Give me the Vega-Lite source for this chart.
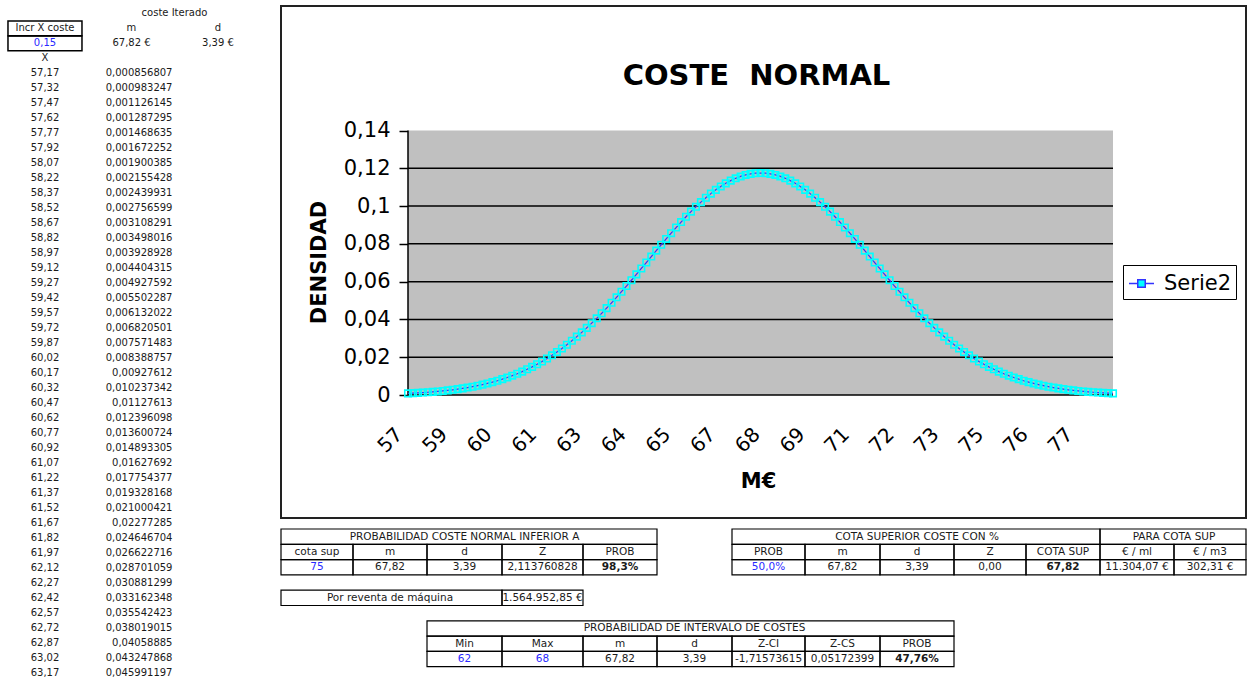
{
"$schema":"https://vega.github.io/schema/vega-lite/v6.json",
"background":"white",
"padding":{"left":0,"top":5,"right":2,"bottom":0},
"config":{"view":{"stroke":null},"font":"DejaVu Sans"},
"datasets":{
"densidad":[
{"x":57.17,"y":0.000856807},{"x":57.32,"y":0.000983247},{"x":57.47,"y":0.001126145},{"x":57.62,"y":0.001287295},{"x":57.77,"y":0.001468635},{"x":57.92,"y":0.001672252},{"x":58.07,"y":0.001900385},{"x":58.22,"y":0.002155428},{"x":58.37,"y":0.002439931},{"x":58.52,"y":0.002756599},
{"x":58.67,"y":0.003108291},{"x":58.82,"y":0.003498016},{"x":58.97,"y":0.003928928},{"x":59.12,"y":0.004404315},{"x":59.27,"y":0.004927592},{"x":59.42,"y":0.005502287},{"x":59.57,"y":0.006132022},{"x":59.72,"y":0.006820501},{"x":59.87,"y":0.007571483},{"x":60.02,"y":0.008388757},
{"x":60.17,"y":0.00927612},{"x":60.32,"y":0.010237342},{"x":60.47,"y":0.01127613},{"x":60.62,"y":0.012396098},{"x":60.77,"y":0.013600724},{"x":60.92,"y":0.014893305},{"x":61.07,"y":0.01627692},{"x":61.22,"y":0.017754377},{"x":61.37,"y":0.019328168},{"x":61.52,"y":0.021000421},
{"x":61.67,"y":0.02277285},{"x":61.82,"y":0.024646704},{"x":61.97,"y":0.026622716},{"x":62.12,"y":0.028701059},{"x":62.27,"y":0.030881299},{"x":62.42,"y":0.033162348},{"x":62.57,"y":0.035542423},{"x":62.72,"y":0.038019015},{"x":62.87,"y":0.04058885},{"x":63.02,"y":0.043247868},
{"x":63.17,"y":0.045991197},{"x":63.32,"y":0.048813},{"x":63.47,"y":0.051707},{"x":63.62,"y":0.054667},{"x":63.77,"y":0.057681},{"x":63.92,"y":0.060745},{"x":64.07,"y":0.063845},{"x":64.22,"y":0.066974},{"x":64.37,"y":0.070118},{"x":64.52,"y":0.073267},
{"x":64.67,"y":0.076408},{"x":64.82,"y":0.079529},{"x":64.97,"y":0.082614},{"x":65.12,"y":0.085653},{"x":65.27,"y":0.088631},{"x":65.42,"y":0.091533},{"x":65.57,"y":0.094345},{"x":65.72,"y":0.097054},{"x":65.87,"y":0.099646},{"x":66.02,"y":0.102107},
{"x":66.17,"y":0.104427},{"x":66.32,"y":0.10659},{"x":66.47,"y":0.108584},{"x":66.62,"y":0.110402},{"x":66.77,"y":0.11203},{"x":66.92,"y":0.113462},{"x":67.07,"y":0.114686},{"x":67.22,"y":0.115699},{"x":67.37,"y":0.116492},{"x":67.52,"y":0.117062},
{"x":67.67,"y":0.117405},{"x":67.82,"y":0.11752},{"x":67.97,"y":0.117405},{"x":68.12,"y":0.117062},{"x":68.27,"y":0.116492},{"x":68.42,"y":0.115699},{"x":68.57,"y":0.114686},{"x":68.72,"y":0.113462},{"x":68.87,"y":0.11203},{"x":69.02,"y":0.110402},
{"x":69.17,"y":0.108584},{"x":69.32,"y":0.10659},{"x":69.47,"y":0.104427},{"x":69.62,"y":0.102107},{"x":69.77,"y":0.099646},{"x":69.92,"y":0.097054},{"x":70.07,"y":0.094345},{"x":70.22,"y":0.091533},{"x":70.37,"y":0.088631},{"x":70.52,"y":0.085653},
{"x":70.67,"y":0.082614},{"x":70.82,"y":0.079529},{"x":70.97,"y":0.076408},{"x":71.12,"y":0.073267},{"x":71.27,"y":0.070118},{"x":71.42,"y":0.066974},{"x":71.57,"y":0.063845},{"x":71.72,"y":0.060745},{"x":71.87,"y":0.057681},{"x":72.02,"y":0.054667},
{"x":72.17,"y":0.051707},{"x":72.32,"y":0.048813},{"x":72.47,"y":0.045991},{"x":72.62,"y":0.043248},{"x":72.77,"y":0.040589},{"x":72.92,"y":0.038019},{"x":73.07,"y":0.035542},{"x":73.22,"y":0.033162},{"x":73.37,"y":0.030881},{"x":73.52,"y":0.028701},
{"x":73.67,"y":0.026623},{"x":73.82,"y":0.024647},{"x":73.97,"y":0.022773},{"x":74.12,"y":0.021},{"x":74.27,"y":0.019328},{"x":74.42,"y":0.017754},{"x":74.57,"y":0.016277},{"x":74.72,"y":0.014893},{"x":74.87,"y":0.013601},{"x":75.02,"y":0.012396},
{"x":75.17,"y":0.011276},{"x":75.32,"y":0.010237},{"x":75.47,"y":0.009276},{"x":75.62,"y":0.008389},{"x":75.77,"y":0.007571},{"x":75.92,"y":0.006821},{"x":76.07,"y":0.006132},{"x":76.22,"y":0.005502},{"x":76.37,"y":0.004928},{"x":76.52,"y":0.004404},
{"x":76.67,"y":0.003929},{"x":76.82,"y":0.003498},{"x":76.97,"y":0.003108},{"x":77.12,"y":0.002757},{"x":77.27,"y":0.00244},{"x":77.42,"y":0.002155},{"x":77.57,"y":0.0019},{"x":77.72,"y":0.001672},{"x":77.87,"y":0.001469},{"x":78.02,"y":0.001287},
{"x":78.17,"y":0.001126},{"x":78.32,"y":0.000983},{"x":78.47,"y":0.000857}
],
"izq":[
{"row":1,"col":2,"t":"coste Iterado","k":"s"},
{"row":2,"col":1,"t":"Incr X coste","k":"bc"},{"row":2,"col":2,"t":"m","k":"c"},{"row":2,"col":3,"t":"d","k":"c"},
{"row":3,"col":1,"t":"0,15","k":"bb"},{"row":3,"col":2,"t":"67,82 €","k":"c"},{"row":3,"col":3,"t":"3,39 €","k":"c"},
{"row":4,"col":1,"t":"X","k":"c"},
{"row":5,"col":1,"t":"57,17","k":"c"},{"row":5,"col":2,"t":"0,000856807","k":"r"},
{"row":6,"col":1,"t":"57,32","k":"c"},{"row":6,"col":2,"t":"0,000983247","k":"r"},
{"row":7,"col":1,"t":"57,47","k":"c"},{"row":7,"col":2,"t":"0,001126145","k":"r"},
{"row":8,"col":1,"t":"57,62","k":"c"},{"row":8,"col":2,"t":"0,001287295","k":"r"},
{"row":9,"col":1,"t":"57,77","k":"c"},{"row":9,"col":2,"t":"0,001468635","k":"r"},
{"row":10,"col":1,"t":"57,92","k":"c"},{"row":10,"col":2,"t":"0,001672252","k":"r"},
{"row":11,"col":1,"t":"58,07","k":"c"},{"row":11,"col":2,"t":"0,001900385","k":"r"},
{"row":12,"col":1,"t":"58,22","k":"c"},{"row":12,"col":2,"t":"0,002155428","k":"r"},
{"row":13,"col":1,"t":"58,37","k":"c"},{"row":13,"col":2,"t":"0,002439931","k":"r"},
{"row":14,"col":1,"t":"58,52","k":"c"},{"row":14,"col":2,"t":"0,002756599","k":"r"},
{"row":15,"col":1,"t":"58,67","k":"c"},{"row":15,"col":2,"t":"0,003108291","k":"r"},
{"row":16,"col":1,"t":"58,82","k":"c"},{"row":16,"col":2,"t":"0,003498016","k":"r"},
{"row":17,"col":1,"t":"58,97","k":"c"},{"row":17,"col":2,"t":"0,003928928","k":"r"},
{"row":18,"col":1,"t":"59,12","k":"c"},{"row":18,"col":2,"t":"0,004404315","k":"r"},
{"row":19,"col":1,"t":"59,27","k":"c"},{"row":19,"col":2,"t":"0,004927592","k":"r"},
{"row":20,"col":1,"t":"59,42","k":"c"},{"row":20,"col":2,"t":"0,005502287","k":"r"},
{"row":21,"col":1,"t":"59,57","k":"c"},{"row":21,"col":2,"t":"0,006132022","k":"r"},
{"row":22,"col":1,"t":"59,72","k":"c"},{"row":22,"col":2,"t":"0,006820501","k":"r"},
{"row":23,"col":1,"t":"59,87","k":"c"},{"row":23,"col":2,"t":"0,007571483","k":"r"},
{"row":24,"col":1,"t":"60,02","k":"c"},{"row":24,"col":2,"t":"0,008388757","k":"r"},
{"row":25,"col":1,"t":"60,17","k":"c"},{"row":25,"col":2,"t":"0,00927612","k":"r"},
{"row":26,"col":1,"t":"60,32","k":"c"},{"row":26,"col":2,"t":"0,010237342","k":"r"},
{"row":27,"col":1,"t":"60,47","k":"c"},{"row":27,"col":2,"t":"0,01127613","k":"r"},
{"row":28,"col":1,"t":"60,62","k":"c"},{"row":28,"col":2,"t":"0,012396098","k":"r"},
{"row":29,"col":1,"t":"60,77","k":"c"},{"row":29,"col":2,"t":"0,013600724","k":"r"},
{"row":30,"col":1,"t":"60,92","k":"c"},{"row":30,"col":2,"t":"0,014893305","k":"r"},
{"row":31,"col":1,"t":"61,07","k":"c"},{"row":31,"col":2,"t":"0,01627692","k":"r"},
{"row":32,"col":1,"t":"61,22","k":"c"},{"row":32,"col":2,"t":"0,017754377","k":"r"},
{"row":33,"col":1,"t":"61,37","k":"c"},{"row":33,"col":2,"t":"0,019328168","k":"r"},
{"row":34,"col":1,"t":"61,52","k":"c"},{"row":34,"col":2,"t":"0,021000421","k":"r"},
{"row":35,"col":1,"t":"61,67","k":"c"},{"row":35,"col":2,"t":"0,02277285","k":"r"},
{"row":36,"col":1,"t":"61,82","k":"c"},{"row":36,"col":2,"t":"0,024646704","k":"r"},
{"row":37,"col":1,"t":"61,97","k":"c"},{"row":37,"col":2,"t":"0,026622716","k":"r"},
{"row":38,"col":1,"t":"62,12","k":"c"},{"row":38,"col":2,"t":"0,028701059","k":"r"},
{"row":39,"col":1,"t":"62,27","k":"c"},{"row":39,"col":2,"t":"0,030881299","k":"r"},
{"row":40,"col":1,"t":"62,42","k":"c"},{"row":40,"col":2,"t":"0,033162348","k":"r"},
{"row":41,"col":1,"t":"62,57","k":"c"},{"row":41,"col":2,"t":"0,035542423","k":"r"},
{"row":42,"col":1,"t":"62,72","k":"c"},{"row":42,"col":2,"t":"0,038019015","k":"r"},
{"row":43,"col":1,"t":"62,87","k":"c"},{"row":43,"col":2,"t":"0,04058885","k":"r"},
{"row":44,"col":1,"t":"63,02","k":"c"},{"row":44,"col":2,"t":"0,043247868","k":"r"},
{"row":45,"col":1,"t":"63,17","k":"c"},{"row":45,"col":2,"t":"0,045991197","k":"r"}
],
"tabla":[
{"r":0,"c0":0,"c1":5,"cx":2.5,"t":"PROBABILIDAD COSTE NORMAL INFERIOR A","s":"n"},
{"r":1,"c0":0,"c1":1,"cx":0.5,"t":"cota sup","s":"n"},
{"r":1,"c0":1,"c1":2,"cx":1.5,"t":"m","s":"n"},
{"r":1,"c0":2,"c1":3,"cx":2.5,"t":"d","s":"n"},
{"r":1,"c0":3,"c1":4,"cx":3.5,"t":"Z","s":"n"},
{"r":1,"c0":4,"c1":5,"cx":4.5,"t":"PROB","s":"n"},
{"r":2,"c0":0,"c1":1,"cx":0.5,"t":"75","s":"a"},
{"r":2,"c0":1,"c1":2,"cx":1.5,"t":"67,82","s":"n"},
{"r":2,"c0":2,"c1":3,"cx":2.5,"t":"3,39","s":"n"},
{"r":2,"c0":3,"c1":4,"cx":3.5,"t":"2,113760828","s":"n"},
{"r":2,"c0":4,"c1":5,"cx":4.5,"t":"98,3%","s":"b"},
{"r":4,"c0":0,"c1":3,"cx":1.5,"t":"Por reventa de máquina","s":"n"},
{"r":4,"c0":3,"c1":4,"cx":3.5,"t":"1.564.952,85 €","s":"n"},
{"r":0,"c0":6,"c1":11,"cx":8.5,"t":"COTA SUPERIOR COSTE CON %","s":"n"},
{"r":0,"c0":11,"c1":13,"cx":12,"t":"PARA COTA SUP","s":"n"},
{"r":1,"c0":6,"c1":7,"cx":6.5,"t":"PROB","s":"n"},
{"r":1,"c0":7,"c1":8,"cx":7.5,"t":"m","s":"n"},
{"r":1,"c0":8,"c1":9,"cx":8.5,"t":"d","s":"n"},
{"r":1,"c0":9,"c1":10,"cx":9.5,"t":"Z","s":"n"},
{"r":1,"c0":10,"c1":11,"cx":10.5,"t":"COTA SUP","s":"n"},
{"r":1,"c0":11,"c1":12,"cx":11.5,"t":"€ / ml","s":"n"},
{"r":1,"c0":12,"c1":13,"cx":12.5,"t":"€ / m3","s":"n"},
{"r":2,"c0":6,"c1":7,"cx":6.5,"t":"50,0%","s":"a"},
{"r":2,"c0":7,"c1":8,"cx":7.5,"t":"67,82","s":"n"},
{"r":2,"c0":8,"c1":9,"cx":8.5,"t":"3,39","s":"n"},
{"r":2,"c0":9,"c1":10,"cx":9.5,"t":"0,00","s":"n"},
{"r":2,"c0":10,"c1":11,"cx":10.5,"t":"67,82","s":"b"},
{"r":2,"c0":11,"c1":12,"cx":11.5,"t":"11.304,07 €","s":"n"},
{"r":2,"c0":12,"c1":13,"cx":12.5,"t":"302,31 €","s":"n"},
{"r":6,"c0":2,"c1":9,"cx":5.5,"t":"PROBABILIDAD DE INTERVALO DE COSTES","s":"n"},
{"r":7,"c0":2,"c1":3,"cx":2.5,"t":"Min","s":"n"},
{"r":7,"c0":3,"c1":4,"cx":3.5,"t":"Max","s":"n"},
{"r":7,"c0":4,"c1":5,"cx":4.5,"t":"m","s":"n"},
{"r":7,"c0":5,"c1":6,"cx":5.5,"t":"d","s":"n"},
{"r":7,"c0":6,"c1":7,"cx":6.5,"t":"Z-CI","s":"n"},
{"r":7,"c0":7,"c1":8,"cx":7.5,"t":"Z-CS","s":"n"},
{"r":7,"c0":8,"c1":9,"cx":8.5,"t":"PROB","s":"n"},
{"r":8,"c0":2,"c1":3,"cx":2.5,"t":"62","s":"a"},
{"r":8,"c0":3,"c1":4,"cx":3.5,"t":"68","s":"a"},
{"r":8,"c0":4,"c1":5,"cx":4.5,"t":"67,82","s":"n"},
{"r":8,"c0":5,"c1":6,"cx":5.5,"t":"3,39","s":"n"},
{"r":8,"c0":6,"c1":7,"cx":6.5,"t":"-1,71573615","s":"n"},
{"r":8,"c0":7,"c1":8,"cx":7.5,"t":"0,05172399","s":"n"},
{"r":8,"c0":8,"c1":9,"cx":8.5,"t":"47,76%","s":"b"}
]
},
"spacing":0,
"hconcat":[
{
"width":280,"height":674,
"data":{"name":"izq"},
"encoding":{
"x":{"field":"col","type":"quantitative","scale":{"domain":[0.48,3.717],"nice":false,"zero":false},"axis":null},
"y":{"field":"row","type":"ordinal","scale":{"type":"point","padding":0.5},"axis":null}
},
"layer":[
{"transform":[{"filter":"datum.k == 'bc' || datum.k == 'bb'"}],
"mark":{"type":"point","shape":"M-1,-0.2H1V0.2H-1Z","size":5476,"filled":false,"stroke":"black","strokeWidth":1.5,"opacity":1}},
{"transform":[{"filter":"datum.k == 'c' || datum.k == 'bc' || datum.k == 'bb'"}],
"mark":{"type":"text","fontSize":10,"align":"center","baseline":"middle"},
"encoding":{"text":{"field":"t"},"color":{"condition":{"test":"datum.k == 'bb'","value":"#2a2aff"},"value":"#1a1a1a"}}},
{"transform":[{"filter":"datum.k == 'r'"}],
"mark":{"type":"text","fontSize":10,"align":"right","baseline":"middle","dx":41,"color":"#1a1a1a"},
"encoding":{"text":{"field":"t"}}},
{"transform":[{"filter":"datum.k == 's'"}],
"mark":{"type":"text","fontSize":10,"align":"center","baseline":"middle","dx":43,"color":"#1a1a1a"},
"encoding":{"text":{"field":"t"}}}
]
},
{
"spacing":9,
"vconcat":[
{
"width":965,"height":512,
"view":{"stroke":"#222","strokeWidth":2,"fill":"white"},
"title":{"text":"COSTE\u00a0\u00a0NORMAL","offset":-85,"anchor":"middle","frame":"group","font":"DejaVu Sans","fontSize":29,"fontWeight":"bold","color":"black","dx":-7},
"layer":[
{"data":{"values":[{"zona":"plot"}]},
"mark":{"type":"rect","color":"#C0C0C0"},
"encoding":{
"x":{"datum":57.17,"type":"quantitative","scale":{"domain":[53.333,82.488],"nice":false,"zero":false}},
"x2":{"datum":78.47},
"y":{"datum":0,"type":"quantitative","scale":{"domain":[-0.0651,0.2059],"nice":false,"zero":false}},
"y2":{"datum":0.14}}},
{"data":{"values":[{"g":0},{"g":0.02},{"g":0.04},{"g":0.06},{"g":0.08},{"g":0.1},{"g":0.12}]},
"mark":{"type":"rule","color":"black","strokeWidth":1.5},
"encoding":{
"x":{"datum":57.17,"type":"quantitative","scale":{"domain":[53.333,82.488],"nice":false,"zero":false}},
"x2":{"datum":78.47},
"y":{"field":"g","type":"quantitative","scale":{"domain":[-0.0651,0.2059],"nice":false,"zero":false}}}},
{"data":{"values":[{"eje":"y"}]},
"mark":{"type":"rule","color":"black","strokeWidth":1.5},
"encoding":{
"x":{"datum":57.17,"type":"quantitative","scale":{"domain":[53.333,82.488],"nice":false,"zero":false}},
"y":{"datum":0,"type":"quantitative","scale":{"domain":[-0.0651,0.2059],"nice":false,"zero":false}},
"y2":{"datum":0.14}}},
{"data":{"name":"densidad"},
"mark":{"type":"line","strokeWidth":1.2},
"encoding":{
"x":{"field":"x","type":"quantitative","scale":{"domain":[53.333,82.488],"nice":false,"zero":false},
"axis":{"title":"M€","values":[57.17,58.52,59.87,61.22,62.57,63.92,65.27,66.62,67.97,69.32,70.67,72.02,73.37,74.72,76.07,77.42],"labelExpr":"format(datum.value,'.0f')","offset":-123,"domain":false,"ticks":false,"grid":false,"labelAngle":-45,"labelAlign":"right","labelBaseline":"middle","labelPadding":36,"labelOffset":-9,"labelFont":"DejaVu Sans","labelFontSize":20,"labelColor":"black","labelFlush":false,"labelOverlap":false,"titleFont":"DejaVu Sans","titleFontSize":21,"titleFontWeight":"bold","titleColor":"black","titlePadding":14,"titleX":477}},
"y":{"field":"y","type":"quantitative","scale":{"domain":[-0.0651,0.2059],"nice":false,"zero":false},
"axis":{"title":"DENSIDAD","values":[0,0.02,0.04,0.06,0.08,0.1,0.12,0.14],"labelExpr":"replace(format(datum.value,'.2~f'),'.',',')","offset":-127,"domain":false,"grid":false,"ticks":true,"tickSize":9,"tickColor":"black","tickWidth":1.5,"labelFont":"DejaVu Sans","labelFontSize":21,"labelColor":"black","labelPadding":9,"labelFlush":false,"labelOverlap":false,"titleFont":"DejaVu Sans","titleFontSize":21,"titleFontWeight":"bold","titleColor":"black","titlePadding":14}},
"color":{"datum":"Serie2","type":"nominal","scale":{"range":["#3333FF"]},
"legend":{"orient":"none","legendX":1123,"legendY":259,"title":null,"strokeColor":"black","fillColor":"white","padding":5,"cornerRadius":0,"labelFont":"DejaVu Sans","labelFontSize":21,"labelColor":"black","labelOffset":9,"symbolType":"M-1,0H-0.3M0.3,0H1M-0.3,-0.3H0.3V0.3H-0.3Z","symbolSize":625,"symbolStrokeWidth":1.5,"symbolStrokeColor":"#3333FF","symbolFillColor":"#00FFFF"}}}},
{"data":{"name":"densidad"},
"mark":{"type":"point","shape":"square","filled":false,"stroke":"#00FFFF","strokeWidth":1.6,"size":42,"opacity":1},
"encoding":{
"x":{"field":"x","type":"quantitative","scale":{"domain":[53.333,82.488],"nice":false,"zero":false}},
"y":{"field":"y","type":"quantitative","scale":{"domain":[-0.0651,0.2059],"nice":false,"zero":false}}}}
]
},
{
"width":965,"height":153,
"data":{"name":"tabla"},
"encoding":{"y":{"field":"r","type":"ordinal","scale":{"type":"band","domain":[0,1,2,3,4,5,6,7,8,9],"paddingInner":0,"paddingOuter":0},"axis":null}},
"layer":[
{"mark":{"type":"rect","fillOpacity":0,"stroke":"black","strokeWidth":1.2},
"encoding":{"x":{"field":"c0","type":"quantitative","scale":{"domain":[0,1,2,3,4,5,6,7,8,9,10,11,12,13],"range":[0,72,146,221,302,376,451,524,599,673,745,819,893,965],"nice":false,"zero":false},"axis":null},"x2":{"field":"c1"}}},
{"transform":[{"filter":"datum.s != 'b'"}],
"mark":{"type":"text","fontSize":10.5,"align":"center","baseline":"middle"},
"encoding":{"x":{"field":"cx","type":"quantitative","scale":{"domain":[0,1,2,3,4,5,6,7,8,9,10,11,12,13],"range":[0,72,146,221,302,376,451,524,599,673,745,819,893,965],"nice":false,"zero":false},"axis":null},"text":{"field":"t"},"color":{"condition":{"test":"datum.s == 'a'","value":"#2a2aff"},"value":"#1a1a1a"}}},
{"transform":[{"filter":"datum.s == 'b'"}],
"mark":{"type":"text","fontSize":10.5,"fontWeight":"bold","align":"center","baseline":"middle","color":"#1a1a1a"},
"encoding":{"x":{"field":"cx","type":"quantitative","scale":{"domain":[0,1,2,3,4,5,6,7,8,9,10,11,12,13],"range":[0,72,146,221,302,376,451,524,599,673,745,819,893,965],"nice":false,"zero":false},"axis":null},"text":{"field":"t"}}}
]
}
]
}
]
}
